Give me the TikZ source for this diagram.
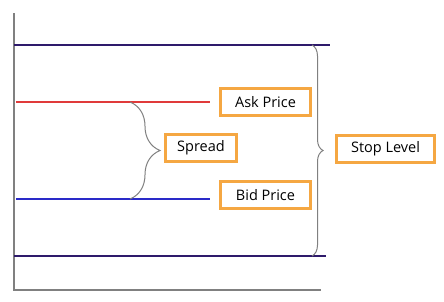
\documentclass[tikz,border=0pt]{standalone}
\usepackage{fontspec}
\setmainfont{Open Sans}
\usepackage{tikz}
\usetikzlibrary{positioning, decorations.pathreplacing}
\definecolor{stopline}{HTML}{2E1A6B}
\definecolor{askline}{HTML}{E03A3A}
\definecolor{bidline}{HTML}{2A2AC8}
\definecolor{tagframe}{HTML}{F5A742}
\definecolor{axisgray}{HTML}{808080}

\begin{document}
\begin{tikzpicture}[
  x=1pt, y=1pt,
  tag/.style={draw=tagframe, line width=2.4pt, minimum height=27pt, inner sep=0pt, font=\fontsize{14.5}{16}\selectfont},
  level/.style={line width=2.2pt, stopline},
  brc/.style={decorate, decoration={brace, amplitude=#1}, draw=axisgray, line width=1pt},
]
\useasboundingbox (0,0) rectangle (444,301);

% Axes
\coordinate (o) at (14,11);
\draw[axisgray, line width=1.2pt] (14,288) -- (o) -- (321,11);

% Stop levels
\draw[level] (14,256) -- (330,256);
\draw[level] (14,45) -- (326,45);

% Price lines
\coordinate (askend) at (210,199);
\coordinate (bidend) at (210,102);
\draw[askline, line width=1.5pt] (16,199) -- (askend);
\draw[bidline, line width=1.5pt] (16,102) -- (bidend);

% Labels
\node[tag, minimum width=90pt] (ask) at (265.5,199) {Ask Price};
\node[tag, minimum width=90pt] (bid) at (265.5,106) {Bid Price};
\node[tag, minimum width=71pt] (spread) at (201,153) {Spread};
\node[tag, minimum width=98pt] (stop) at (385.5,152) {Stop Level};

% Braces
\draw[brc=30pt] (130,199) -- (130,102);
\draw[brc=11pt] (312,256) -- (312,45);

\end{tikzpicture}
\end{document}
